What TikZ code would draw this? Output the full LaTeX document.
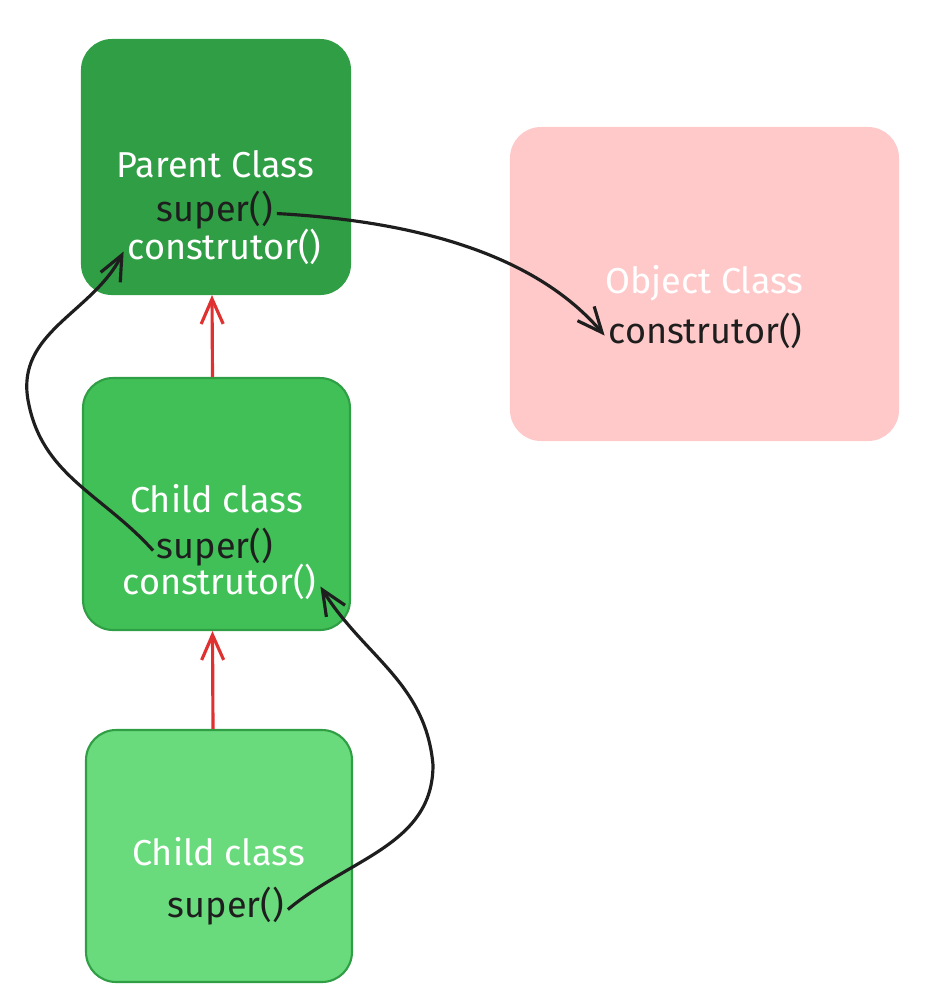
\documentclass[tikz,border=0pt]{standalone}
\usepackage{fontspec}
\setmainfont{Fira Sans}
\usepackage{tikz}
\usetikzlibrary{arrows.meta, positioning, calc}

\definecolor{darkgreen}{HTML}{2F9E44}
\definecolor{midgreen}{HTML}{40C057}
\definecolor{lightgreen}{HTML}{69DB7C}
\definecolor{pinkfill}{HTML}{FFC9C9}
\definecolor{arrowred}{HTML}{E03131}
\definecolor{inkblack}{HTML}{1E1E1E}

\begin{document}
\begin{tikzpicture}[
    x=0.02cm, y=-0.02cm,
    >={Straight Barb[length=5mm, width=4.4mm]},
    classbox/.style={draw=darkgreen, line width=1.2pt, rounded corners=0.6cm},
    lbl/.style={anchor=base, inner sep=2pt, text height=11pt, text depth=2.5pt,
        font=\fontsize{20.5}{24}\selectfont},
    whitelbl/.style={lbl, text=white},
    blacklbl/.style={lbl, text=inkblack},
    inherit/.style={->, arrowred, line width=1.8pt},
    call/.style={->, inkblack, line width=1.8pt}
]
    \useasboundingbox (0, 0) rectangle (949, 1002);

    % Class boxes
    \node[classbox, fill=darkgreen, minimum width=5.36cm, minimum height=5.08cm] (parent) at (216, 167) {};
    \node[classbox, draw=pinkfill, fill=pinkfill, minimum width=7.74cm, minimum height=6.24cm] (object) at (704.5, 284) {};
    \node[classbox, fill=midgreen, minimum width=5.34cm, minimum height=5.04cm] (childA) at (216.5, 504) {};
    \node[classbox, fill=lightgreen, minimum width=5.32cm, minimum height=5.04cm] (childB) at (219, 856) {};

    % Parent class texts
    \node[whitelbl] (ptitle) at (215.5, 177) {Parent Class};
    \node[blacklbl] (psuper) at (215, 221) {super()};
    \node[whitelbl] (pcons) at (224.5, 259) {construtor()};

    % Object class texts
    \node[whitelbl] (otitle) at (704.5, 293) {Object Class};
    \node[blacklbl] (ocons) at (705.5, 343) {construtor()};

    % First child texts
    \node[whitelbl] (atitle) at (216.5, 512) {Child class};
    \node[blacklbl] (asuper) at (215, 558) {super()};
    \node[whitelbl] (acons) at (219.5, 594) {construtor()};

    % Second child texts
    \node[whitelbl] (btitle) at (218.5, 865) {Child class};
    \node[blacklbl] (bsuper) at (226, 917) {super()};

    % Inheritance arrows
    \draw[inherit] ($(childA.north)+(-4, 0)$) -- ($(parent.south)+(-4, 0)$);
    \draw[inherit] ($(childB.north)+(-6, 0)$) -- ($(childA.south)+(-4, 0)$);

    % super() calls
    \draw[call] (psuper.east) .. controls (430, 222) and (540, 260) .. (ocons.west);
    \draw[call] (asuper.west) to[out=132, in=-80] (28, 400) to[out=100, in=-117] (pcons.west);
    \draw[call] (bsuper.east) to[out=40, in=-90] (433, 765) to[out=95, in=-58] (acons.east);
\end{tikzpicture}
\end{document}
